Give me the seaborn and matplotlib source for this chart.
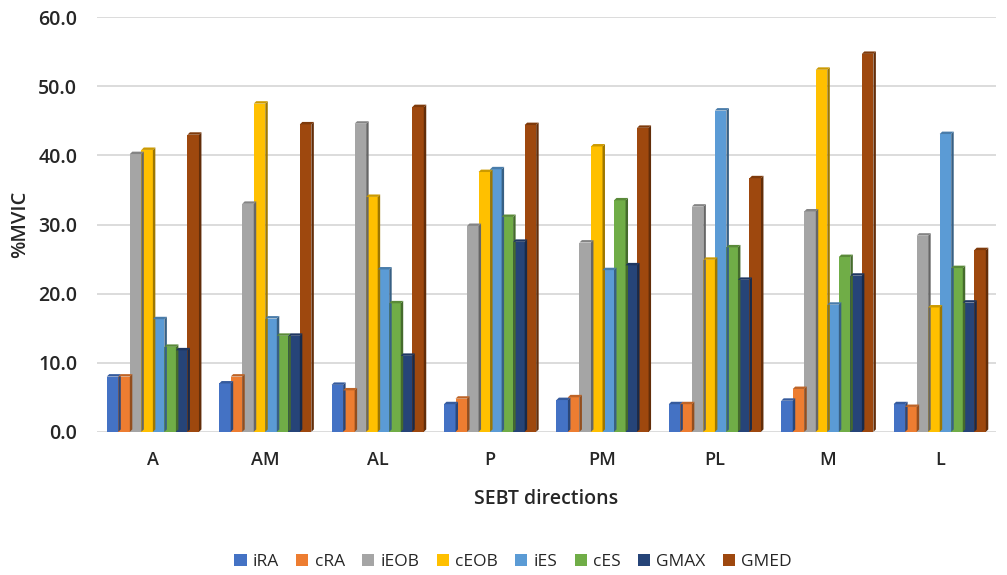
import numpy as np
import pandas as pd
import seaborn as sns
import matplotlib
matplotlib.use("Agg")
import matplotlib.pyplot as plt
from matplotlib.patches import Polygon
from matplotlib.colors import to_rgb

directions = ["A", "AM", "AL", "P", "PM", "PL", "M", "L"]
muscles = ["iRA", "cRA", "iEOB", "cEOB", "iES", "cES", "GMAX", "GMED"]
iRA  = [8.0, 7.0, 6.8, 4.0, 4.6, 4.0, 4.5, 4.0]
cRA  = [8.0, 8.0, 6.0, 4.8, 5.0, 4.0, 6.2, 3.6]
iEOB = [40.2, 33.0, 44.6, 29.8, 27.4, 32.6, 31.9, 28.4]
cEOB = [40.8, 47.5, 34.0, 37.6, 41.3, 24.9, 52.4, 18.0]
iES  = [16.3, 16.4, 23.5, 38.0, 23.4, 46.5, 18.4, 43.1]
cES  = [12.3, 13.9, 18.6, 31.1, 33.5, 26.7, 25.3, 23.7]
GMAX = [11.8, 13.9, 11.0, 27.5, 24.1, 22.0, 22.6, 18.7]
GMED = [43.0, 44.5, 47.0, 44.4, 44.0, 36.7, 54.7, 26.3]
yticks = [0, 10, 20, 30, 40, 50, 60]

colors = ["#4472C4", "#ED7D31", "#A5A5A5", "#FFC000",
          "#5B9BD5", "#70AD47", "#264478", "#9E480E"]

series = [iRA, cRA, iEOB, cEOB, iES, cES, GMAX, GMED]
rows = []
for m, vals in zip(muscles, series):
    for d, v in zip(directions, vals):
        rows.append({"direction": d, "muscle": m, "value": v})
df = pd.DataFrame(rows)

sns.set_style("white")
plt.rcParams["font.family"] = ["Open Sans", "DejaVu Sans"]

fig = plt.figure(figsize=(10.07, 5.75), dpi=100)
ax = fig.add_axes([0.096, 0.249, 0.893, 0.721])

sns.barplot(data=df, x="direction", y="value", hue="muscle",
            order=directions, hue_order=muscles, palette=colors,
            width=0.82, gap=0, saturation=1, errorbar=None, ax=ax,
            edgecolor="none", linewidth=0, zorder=3)

# pseudo-3D side and top faces derived from the bar patches
dx = 0.022
dy = 0.35
for p in list(ax.patches):
    x0 = p.get_x(); w = p.get_width(); h = p.get_height()
    if w == 0 or np.isnan(h):
        continue
    c = np.array(to_rgb(p.get_facecolor()))
    x1 = x0 + w
    side = Polygon([(x1, 0), (x1 + dx, dy), (x1 + dx, h + dy), (x1, h)],
                   closed=True, facecolor=c * 0.62, edgecolor="none", zorder=3)
    top = Polygon([(x0, h), (x0 + dx, h + dy), (x1 + dx, h + dy), (x1, h)],
                  closed=True, facecolor=c * 0.8, edgecolor="none", zorder=3)
    ax.add_patch(side)
    ax.add_patch(top)

tc = "#262626"
ax.set_ylim(0, 60)
ax.set_xlim(-0.5, 7.5)
ax.set_yticks(yticks)
ax.set_yticklabels([f"{t:.1f}" for t in yticks], fontsize=14,
                   color=tc, fontweight="semibold")
for lbl in ax.get_xticklabels():
    lbl.set_fontweight("semibold")
ax.tick_params(axis="x", labelsize=13, colors=tc, length=0, pad=14)
ax.tick_params(axis="y", length=0, pad=14)
ax.yaxis.grid(True, color="#d9d9d9", linewidth=1.3, zorder=0)
ax.set_axisbelow(True)
for s in ax.spines.values():
    s.set_visible(False)

ax.set_ylabel("%MVIC", fontsize=14.5, color=tc, labelpad=6, fontweight="semibold")
ax.set_xlabel("SEBT directions", fontsize=14, color=tc, labelpad=14,
              fontweight="semibold")

handles, labels = ax.get_legend_handles_labels()
leg = ax.legend(handles, labels, loc="center", bbox_to_anchor=(0.463, -0.313),
                ncol=8, frameon=False, fontsize=12.5, handlelength=0.7,
                handleheight=0.7, handletextpad=0.35, columnspacing=1.0)
for t in leg.get_texts():
    t.set_color(tc)

fig.savefig("out.png", dpi=100)
